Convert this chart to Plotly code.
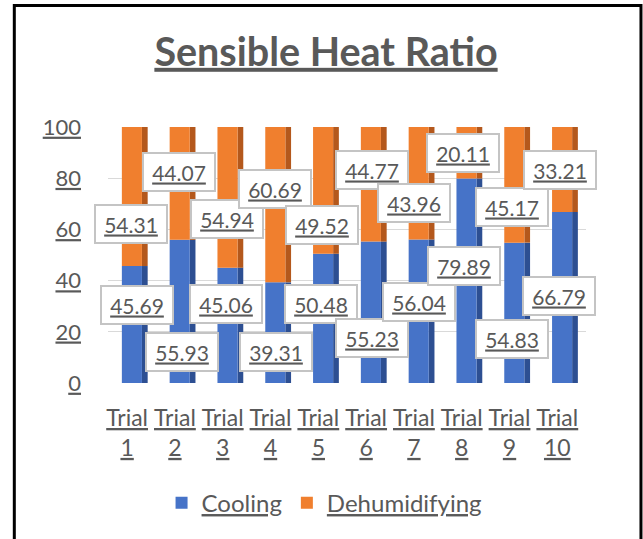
import plotly.graph_objects as go

trials = ["Trial 1", "Trial 2", "Trial 3", "Trial 4", "Trial 5",
          "Trial 6", "Trial 7", "Trial 8", "Trial 9", "Trial 10"]
cooling = [45.69, 55.93, 45.06, 39.31, 50.48, 55.23, 56.04, 79.89, 54.83, 66.79]
dehumidifying = [54.31, 44.07, 54.94, 60.69, 49.52, 44.77, 43.96, 20.11, 45.17, 33.21]
y_ticks = [0, 20, 40, 60, 80, 100]

# label offsets in pixels (style only), relative to each segment's middle
cool_shift = [(5, 20), (2, -41), (-2, 21), (1, -19), (-2, 14), (1, -26), (0, 9), (-3, 15), (-2, -26), (-3, 2)]
dehum_shift = [(-1, -27), (-1, 11), (-1, -22), (0, 16), (-1, -35), (1, 14), (-5, -20), (-4, 0), (-2, -22), (-2, 0)]

FONT = "Lato"
GRAY = "#595959"
idx = list(range(len(trials)))

fig = go.Figure()
# 3D-ish side faces
fig.add_trace(go.Bar(x=idx, y=cooling, base=[0] * len(idx), width=0.12, offset=0.21,
                     marker=dict(color="#2d4f92", line=dict(width=0)), showlegend=False, hoverinfo="skip"))
fig.add_trace(go.Bar(x=idx, y=dehumidifying, base=cooling, width=0.12, offset=0.21,
                     marker=dict(color="#b4581c", line=dict(width=0)), showlegend=False, hoverinfo="skip"))
# front faces
fig.add_trace(go.Bar(x=idx, y=cooling, base=[0] * len(idx), width=0.42, offset=-0.21,
                     name="<u>Cooling</u>", marker=dict(color="#4673c8", line=dict(width=0))))
fig.add_trace(go.Bar(x=idx, y=dehumidifying, base=cooling, width=0.42, offset=-0.21,
                     name="<u>Dehumidifying</u>", marker=dict(color="#f07f2e", line=dict(width=0))))

annotations = []
for i, (c, d) in enumerate(zip(cooling, dehumidifying)):
    for val, mid, sh in ((c, c / 2, cool_shift[i]), (d, c + d / 2, dehum_shift[i])):
        annotations.append(dict(
            x=i, y=mid, xref="x", yref="y", text=f"<u>{val:.2f}</u>", showarrow=False,
            xshift=sh[0], yshift=sh[1], font=dict(family=FONT, size=21, color=GRAY),
            width=64, height=30, align="center", valign="middle",
            bgcolor="white", bordercolor="#c4c4c4", borderwidth=2, borderpad=3))

fig.update_layout(
    width=643, height=539, autosize=False,
    margin=dict(l=108, r=57, t=127, b=156),
    paper_bgcolor="white", plot_bgcolor="white",
    barmode="overlay",
    title=dict(text="<b><u>Sensible Heat Ratio</u></b>", xref="container", yref="container",
               x=0.507, y=0.9035, xanchor="center", yanchor="middle",
               font=dict(family=FONT, size=39.5, color=GRAY)),
    xaxis=dict(range=[-0.5, 9.5], tickvals=[i - 0.1 for i in idx],
               ticktext=[f"<u>{t.split()[0]}</u><br><u>{t.split()[1]}</u>" for t in trials],
               tickfont=dict(family=FONT, size=23, color=GRAY), showgrid=False, zeroline=False,
               showline=False, ticks="", ticklabelstandoff=19),
    yaxis=dict(range=[0, 100], tickvals=y_ticks, ticktext=[f"<u>{v}</u>" for v in y_ticks],
               tickfont=dict(family=FONT, size=22, color=GRAY), showgrid=True, gridcolor="#d9d9d9",
               gridwidth=1, zeroline=False, showline=False, ticks="", ticklabelstandoff=26),
    legend=dict(orientation="h", x=0.452, y=-0.469, xanchor="center", yanchor="middle",
                font=dict(family=FONT, size=24, color=GRAY), itemwidth=30, traceorder="normal"),
    annotations=annotations,
    shapes=[dict(type="rect", xref="paper", yref="paper",
                 x0=-0.196, x1=1.115, y0=-0.88, y1=1.475,
                 line=dict(color="black", width=3), fillcolor="rgba(0,0,0,0)", layer="above")],
)

fig.write_html("out.html", config={"displayModeBar": False},
               post_script="document.body.style.margin='0px';document.body.style.overflow='hidden';")
